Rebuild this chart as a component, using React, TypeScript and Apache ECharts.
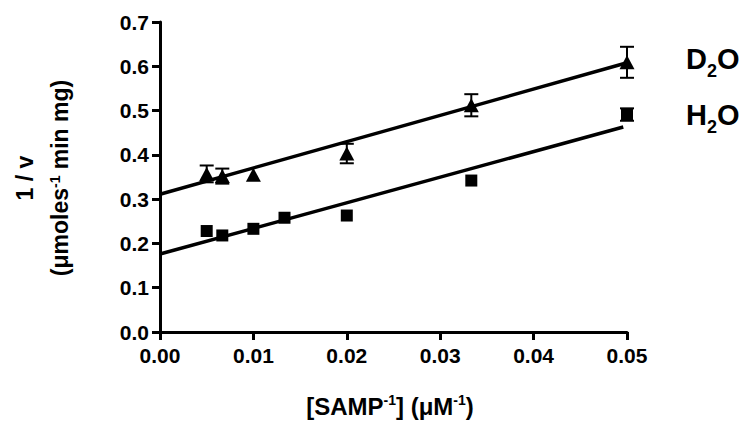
import React, { useEffect, useRef } from "react";
import * as echarts from "echarts";

// reciprocal substrate concentration [SAMP^-1] (µM^-1)
const h2oX = [0.005, 0.00667, 0.01, 0.01333, 0.02, 0.03333, 0.05];
const h2oY = [0.228, 0.218, 0.233, 0.258, 0.263, 0.342, 0.491];
const h2oErr = [0, 0, 0, 0, 0, 0, 0.014];

const d2oX = [0.005, 0.00667, 0.01, 0.02, 0.03333, 0.05];
const d2oY = [0.357, 0.352, 0.355, 0.403, 0.512, 0.609];
const d2oErr = [0.019, 0.017, 0, 0.022, 0.025, 0.035];

// linear fits (start / end points)
const h2oFit = [
  [0, 0.176],
  [0.0496, 0.463],
];
const d2oFit = [
  [0, 0.311],
  [0.05, 0.608],
];

const xTicks = [0, 0.01, 0.02, 0.03, 0.04, 0.05];
const yTicks = [0, 0.1, 0.2, 0.3, 0.4, 0.5, 0.6, 0.7];

const FONT = "'Liberation Sans', Arial, Helvetica, sans-serif";

export default function App() {
  const ref = useRef<HTMLDivElement>(null);
  useEffect(() => {
    if (!ref.current) return;
    const chart = echarts.init(ref.current, undefined, { renderer: "svg" });

    const errData = (xs: number[], ys: number[], es: number[]) =>
      xs.map((x, i) => [x, ys[i], es[i]]);

    const renderErr = (params: any, api: any) => {
      const x = api.value(0);
      const y = api.value(1);
      const e = api.value(2);
      if (!e) return null;
      const top = api.coord([x, y + e]);
      const bot = api.coord([x, y - e]);
      const w = 7;
      const st = { stroke: "#000", lineWidth: 2 };
      return {
        type: "group",
        children: [
          { type: "line", shape: { x1: top[0], y1: top[1], x2: bot[0], y2: bot[1] }, style: st },
          { type: "line", shape: { x1: top[0] - w, y1: top[1], x2: top[0] + w, y2: top[1] }, style: st },
          { type: "line", shape: { x1: bot[0] - w, y1: bot[1], x2: bot[0] + w, y2: bot[1] }, style: st },
        ],
      };
    };

    const axisLabelStyle = {
      color: "#000",
      fontSize: 21,
      fontWeight: "bold" as const,
      fontFamily: FONT,
    };

    const mk = (size: number, lh: number, subLh?: number) => ({
      a: { fontSize: size, fontWeight: "bold", fontFamily: FONT, fill: "#000", lineHeight: lh },
      s: {
        fontSize: Math.round(size * 0.6),
        fontWeight: "bold",
        fontFamily: FONT,
        fill: "#000",
        verticalAlign: "top",
        lineHeight: lh,
      },
      b: {
        fontSize: Math.round(size * 0.62),
        fontWeight: "bold",
        fontFamily: FONT,
        fill: "#000",
        verticalAlign: "bottom",
        lineHeight: subLh || lh,
      },
    });

    chart.setOption({
      animation: false,
      backgroundColor: "#fff",
      grid: { left: 160, right: 124, top: 22, bottom: 89 },
      xAxis: {
        type: "value",
        min: 0,
        max: 0.05,
        interval: 0.01,
        axisLine: { show: true, lineStyle: { color: "#000", width: 3 } },
        axisTick: { show: true, length: 8, lineStyle: { color: "#000", width: 3 } },
        splitLine: { show: false },
        axisLabel: {
          ...axisLabelStyle,
          margin: 13,
          formatter: (v: number) => {
            const t = xTicks.find((k) => Math.abs(k - v) < 1e-9);
            return (t !== undefined ? t : v).toFixed(2);
          },
        },
      },
      yAxis: {
        type: "value",
        min: 0,
        max: 0.7,
        interval: 0.1,
        axisLine: { show: true, lineStyle: { color: "#000", width: 3 } },
        axisTick: { show: true, length: 8, lineStyle: { color: "#000", width: 3 } },
        splitLine: { show: false },
        axisLabel: {
          ...axisLabelStyle,
          margin: 11,
          formatter: (v: number) => {
            const t = yTicks.find((k) => Math.abs(k - v) < 1e-9);
            return (t !== undefined ? t : v).toFixed(1);
          },
        },
      },
      series: [
        {
          type: "line",
          data: d2oFit,
          symbol: "none",
          lineStyle: { color: "#000", width: 3.5 },
          z: 2,
        },
        {
          type: "line",
          data: h2oFit,
          symbol: "none",
          lineStyle: { color: "#000", width: 3.5 },
          z: 2,
        },
        {
          type: "scatter",
          data: d2oX.map((x, i) => [x, d2oY[i]]),
          symbol: "triangle",
          symbolSize: [15, 14],
          itemStyle: { color: "#000", opacity: 1 },
          z: 4,
        },
        {
          type: "scatter",
          data: h2oX.map((x, i) => [x, h2oY[i]]),
          symbol: "rect",
          symbolSize: 12,
          itemStyle: { color: "#000", opacity: 1 },
          z: 4,
        },
        {
          type: "custom",
          data: errData(d2oX, d2oY, d2oErr),
          renderItem: renderErr,
          z: 5,
        },
        {
          type: "custom",
          data: errData(h2oX, h2oY, h2oErr),
          renderItem: renderErr,
          z: 5,
        },
      ],
      graphic: [
        {
          type: "text",
          x: 686,
          y: 59,
          style: {
            text: "{a|D}{b|2}{a|O}",
            align: "left",
            verticalAlign: "middle",
            fill: "#000",
            rich: mk(29, 30, 42),
          },
        },
        {
          type: "text",
          x: 686,
          y: 115,
          style: {
            text: "{a|H}{b|2}{a|O}",
            align: "left",
            verticalAlign: "middle",
            fill: "#000",
            rich: mk(29, 30, 42),
          },
        },
        {
          type: "text",
          x: 25,
          y: 178,
          rotation: Math.PI / 2,
          style: {
            text: "{a|1 / v}",
            align: "center",
            verticalAlign: "middle",
            fill: "#000",
            rich: mk(23, 24),
          },
        },
        {
          type: "text",
          x: 60,
          y: 178,
          rotation: Math.PI / 2,
          style: {
            text: "{a|(μmoles}{s|-1}{a| min mg)}",
            align: "center",
            verticalAlign: "middle",
            fill: "#000",
            rich: mk(23, 24),
          },
        },
        {
          type: "text",
          x: 390,
          y: 406,
          style: {
            text: "{a|[SAMP}{s|-1}{a|] (μM}{s|-1}{a|)}",
            align: "center",
            verticalAlign: "middle",
            fill: "#000",
            rich: mk(24, 26),
          },
        },
      ],
    });
    return () => chart.dispose();
  }, []);

  return (
    <div
      ref={ref}
      style={{ position: "fixed", left: 0, top: 0, width: 751, height: 421, background: "#fff" }}
    />
  );
}
